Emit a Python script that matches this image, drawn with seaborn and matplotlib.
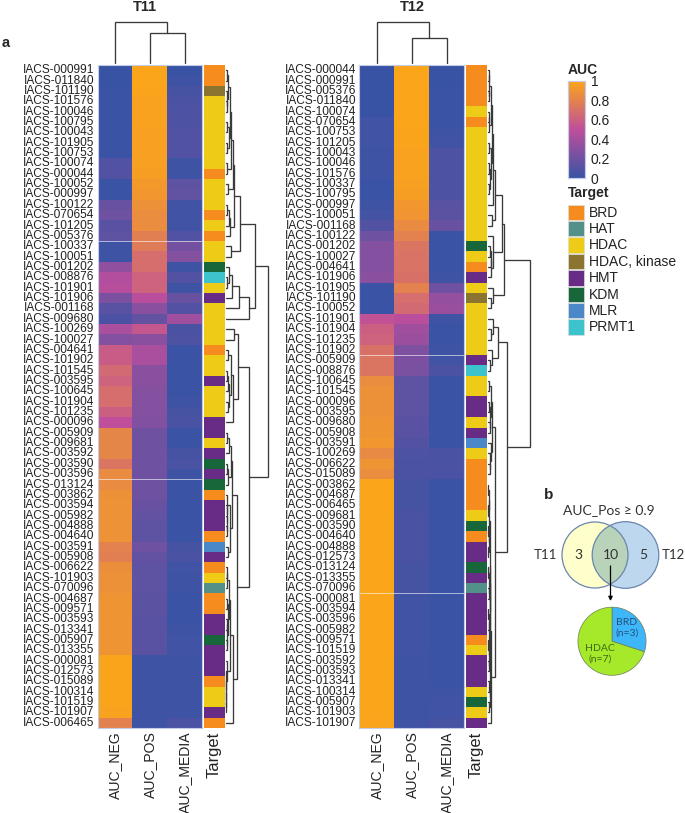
import numpy as np
import pandas as pd
import matplotlib
matplotlib.use("Agg")
import matplotlib.pyplot as plt
from matplotlib.colors import LinearSegmentedColormap, ListedColormap
from matplotlib.patches import Circle, Rectangle
import seaborn as sns

# ---------- data ----------
t11_ids = ["000991","011840","101190","101576","100046","100795","100043","101905","100753","100074",
           "000044","100052","000997","100122","070654","101205","005376","100337","100051","001202",
           "008876","101901","101906","001168","009680","100269","100027","004641","101902","101545",
           "003595","100645","101904","101235","000096","005909","009681","003592","003590","003596",
           "013124","003862","003594","005982","004888","004640","003591","005908","006622","101903",
           "070096","004687","009571","003593","013341","005907","013355","000081","012573","015089",
           "100314","101519","101907","006465"]
t11_neg = [0,0,.01,.01,.01,.01,.01,.01,.01,.09,.1,.01,.01,.18,.2,.12,.14,.02,.02,.33,
           .45,.47,.25,.12,.07,.42,.28,.58,.58,.66,.62,.68,.68,.6,.5,.82,.82,.82,.72,.85,
           .85,.88,.89,.89,.89,.89,.8,.78,.87,.88,.88,.9,.9,.9,.9,.9,.9,.99,.99,.99,
           .99,.99,.98,.8]
t11_pos = [1,1,.99,.98,.98,.98,.97,.97,.97,.97,.96,.93,.92,.88,.86,.86,.78,.76,.68,.68,
           .62,.62,.48,.3,.16,.55,.3,.42,.42,.3,.3,.28,.28,.28,.27,.2,.2,.2,.2,.2,
           .2,.2,.18,.16,.14,.14,.2,.16,.14,.14,.14,.13,.13,.12,.12,.12,.12,.02,.02,.02,
           .02,.02,.02,.02]
t11_media = [0,.02,.05,.07,.08,.08,.09,.09,.09,.02,.02,.14,.15,.03,.03,.03,.09,.22,.28,.02,
             .1,.02,.18,.1,.38,.06,.08,.01,.01,.01,.01,.01,.02,.05,.06,.01,.01,.05,.06,.02,
             .01,.01,.01,.01,.01,.01,.05,.06,.03,.02,.02,.01,.01,.01,.02,.03,.03,.02,.02,.02,
             .02,.02,.02,.07]
t11_target = ["BRD","BRD","HDAC, kinase","HDAC","HDAC","HDAC","HDAC","HDAC","HDAC","HDAC",
              "BRD","HDAC","HDAC","HDAC","BRD","HDAC","BRD","HDAC","HDAC","KDM",
              "PRMT1","HDAC","HMT","HDAC","HDAC","HDAC","HDAC","BRD","HDAC","HDAC",
              "HMT","HDAC","HDAC","HDAC","HMT","HMT","HDAC","HMT","KDM","HMT",
              "KDM","BRD","HMT","HMT","HMT","BRD","MLR","HMT","BRD","HDAC",
              "HAT","BRD","BRD","HMT","HMT","KDM","HMT","HMT","HMT","BRD",
              "HDAC","HDAC","HMT","BRD"]

t12_ids = ["000044","000991","005376","011840","100074","070654","100753","101205","100043","100046",
           "101576","100337","100795","000997","100051","001168","100122","001202","100027","004641",
           "101906","101905","101190","100052","101901","101904","101235","101902","005909","008876",
           "100645","101545","000096","003595","009680","005908","003591","100269","006622","015089",
           "003862","004687","006465","009681","003590","004640","004888","012573","013124","013355",
           "070096","000081","003594","003596","005982","009571","101519","003592","003593","013341",
           "100314","005907","101903","101907"]
t12_neg = [0,0,0,0,0,.03,.03,.03,.02,.02,.02,.01,.01,.02,.04,.1,.2,.28,.28,.28,
           .3,.01,.01,.01,.52,.6,.62,.7,.72,.72,.86,.88,.88,.88,.9,.9,.92,.84,.9,.86,
           1,1,1,1,1,1,1,1,1,1,1,1,1,1,1,1,1,1,1,1,1,1,1,.99]
t12_pos = [1,1,1,1,1,1,.99,.99,.98,.98,.98,.97,.96,.92,.91,.85,.8,.72,.71,.71,
           .7,.8,.68,.66,.48,.38,.36,.26,.25,.24,.14,.14,.14,.14,.12,.12,.1,.08,.07,.07,
           .05,.05,.05,.06,.06,.06,.06,.06,.05,.05,.05,.03,.03,.03,.03,.03,.03,.02,.02,.02,
           .02,.02,.02,.02]
t12_media = [0,0,.01,.01,.01,.01,.02,.03,.08,.08,.08,.08,.08,.12,.13,.18,.01,.01,.01,.01,
             .02,.2,.34,.36,.02,.01,.01,.02,.03,.07,.01,.01,.01,.01,.01,.01,.01,.06,.06,.07,
             .01,.01,.01,.01,.01,.01,.01,.01,.01,.01,.01,.01,.01,.01,.01,.01,.01,.01,.01,.01,
             .02,.03,.03,.05]
t12_target = ["BRD","BRD","BRD","BRD","HDAC","BRD","HDAC","HDAC","HDAC","HDAC",
              "HDAC","HDAC","HDAC","HDAC","HDAC","HDAC","HDAC","KDM","HDAC","BRD",
              "HMT","HDAC","HDAC, kinase","HDAC","HDAC","HDAC","HDAC","HDAC","HMT","PRMT1",
              "HDAC","HDAC","HMT","HMT","HDAC","HMT","MLR","HDAC","BRD","BRD",
              "BRD","BRD","BRD","HDAC","KDM","BRD","HMT","HMT","KDM","HMT",
              "HAT","HMT","HMT","HMT","HMT","BRD","HDAC","HMT","HMT","HMT",
              "HDAC","KDM","HDAC","HMT"]

auc_columns = ["AUC_NEG", "AUC_POS", "AUC_MEDIA"]
target_names = ["BRD", "HAT", "HDAC", "HDAC, kinase", "HMT", "KDM", "MLR", "PRMT1"]
target_colors = ["#F78C1E", "#54908A", "#EECB17", "#8B7430", "#682C87", "#18673A", "#4B88C8", "#3CC3CB"]
auc_ticks = [0, 0.2, 0.4, 0.6, 0.8, 1]
auc_tick_labels = ["0", "0.2", "0.4", "0.6", "0.8", "1"]

# Dendrograms: [height, child, child], 0 = one leaf, in leaf order
t11_col_tree = [41, 0, [30, 0, 0]]
t12_col_tree = [41, 0, [25.5, 0, 0]]

t11_c0 = [4.2, [2.5, [1.2, 0, 0], [1.5, 0, [0.8, 0, 0]]], [3, [1.2, 0, 0], [1.5, 0, 0]]]
t11_upper = [7.5, [5, t11_c0, [1.5, 0, 0]], [1.8, 0, 0]]
t11_lower = [4.5, [3, [1.5, 0, 0], 0], 0]
t11_sub_a = [14, [8.5, t11_upper, t11_lower], [5, 0, 0]]
t11_sub_b = [22.7, [13.3, [6, [3, 0, [1.5, 0, 0]], 0], 0], 0]
t11_mid = [12, [7.7, 0, 0],
           [7.2, [5.5, [2, 0, 0], [3.5, [2, [1, 0, 0], 0], [2.5, 0, 0]]], 0]]
t11_c1 = [5.2, [3, [1.5, 0, 0], 0], [2.5, [1.5, 0, 0], 0]]
t11_c2 = [4.5, [1.5, 0, [1, 0, [0.8, 0, [0.7, 0, 0]]]], [2, 0, 0]]
t11_c3 = [3.2, [1.5, [1, 0, 0], 0], [2.5, [1, 0, 0], [1.5, [1, 0, 0], [1, 0, 0]]]]
t11_c4 = [0.6, 0, [0.5, 0, [0.4, 0, [0.3, 0, [0.2, 0, 0]]]]]
t11_end = [11, [6, t11_c1, t11_c2], [6.7, [4.3, t11_c3, t11_c4], 0]]
t11_row_tree = [41.7, [29, t11_sub_a, t11_sub_b], [22.7, t11_mid, t11_end]]

t12_c0 = [3, [1, [0.5, 0, 0], [0.6, 0, 0]], [1.2, [0.6, 0, 0], 0]]
t12_c1 = [4, t12_c0, [2.5, [1, 0, 0], [1.5, [1.2, 0, 0], [0.8, 0, 0]]]]
t12_a = [7.3, [5, t12_c1, 0], [3.5, 0, 0]]
t12_b = [14, t12_a, [4.7, 0, [3, [2.5, [1.5, 0, 0], 0], 0]]]
t12_c = [15.7, t12_b, [4.7, 0, [3, 0, 0]]]
t12_d = [9.7, [5, 0, [2.5, 0, 0]], [3.5, 0, [1.5, 0, 0]]]
t12_e = [4, [2.5, [1, 0, 0], [1.5, [1, 0, 0], [1.5, 0, 0]]], [3, 0, [2, 0, [1.5, 0, 0]]]]
t12_f = [2, [0.8, [0.5, [0.3, 0, 0], [0.3, 0, 0]], [0.6, [0.3, 0, 0], [0.4, 0, 0]]],
         [1.5, [0.8, [0.4, 0, 0], [0.5, 0, 0]], [1.2, [0.6, [0.3, 0, 0], 0], [0.8, [0.4, 0, 0], [0.5, 0, 0]]]]]
t12_g = [1.8, [1, 0, 0], [1.2, 0, 0]]
t12_h = [2.7, [2.2, t12_f, t12_g], 0]
t12_row_tree = [41.7, t12_c, [19.3, t12_d, [7.3, t12_e, t12_h]]]

t11_seams = [17, 40]
t12_seams = [28, 51]

venn_only_t11, venn_both, venn_only_t12 = 3, 10, 5
pie_groups = ["BRD", "HDAC"]
pie_counts = [3, 7]
pie_colors = ["#3DB7FA", "#A6E82A"]

# ---------- figure ----------
sns.set_theme(style="white")
plt.rcParams["font.family"] = ["Liberation Sans", "DejaVu Sans"]
W, H = 685, 813
fig = plt.figure(figsize=(W / 100, H / 100), dpi=100, facecolor="white")


def px_axes(x0, y0, x1, y1, **kw):
    return fig.add_axes([x0 / W, 1 - y1 / H, (x1 - x0) / W, (y1 - y0) / H], **kw)


auc_cmap = LinearSegmentedColormap.from_list("auc", ["#3953A4", "#BF4E9C", "#FBA51A"])
target_cmap = ListedColormap(target_colors)
LINE = "#3a3a3a"


def draw_tree(ax, node, cursor, vertical):
    """Return (leaf position, height) of node; draws its brackets on ax."""
    if node == 0:
        cursor[0] += 1
        return cursor[0] - 0.5, 0.0
    h, a, b = node
    pa, ha = draw_tree(ax, a, cursor, vertical)
    pb, hb = draw_tree(ax, b, cursor, vertical)
    ps, hs = [pa, pa, pb, pb], [ha, h, h, hb]
    if vertical:
        ax.plot(ps, hs, color=LINE, lw=0.95, solid_joinstyle="miter")
    else:
        ax.plot(hs, ps, color=LINE, lw=0.95, solid_joinstyle="miter")
    return (pa + pb) / 2, h


def panel(ids, neg, pos, media, target, col_tree, row_tree, seams, x0, strip_x0, title, title_x, cbar_ax=None):
    labels = ["IACS-" + i for i in ids]
    frame = pd.DataFrame({"AUC_NEG": neg, "AUC_POS": pos, "AUC_MEDIA": media}, index=labels)[auc_columns]
    top, bottom = 65, 728
    ax = px_axes(x0, top, x0 + 104.5, bottom)
    sns.heatmap(frame, ax=ax, cmap=auc_cmap, vmin=0, vmax=1, cbar=cbar_ax is not None,
                cbar_ax=cbar_ax, yticklabels=True, xticklabels=True)
    ax.tick_params(axis="y", length=0, pad=2.0, labelsize=8.55, labelrotation=0, labelcolor="#222222")
    ax.tick_params(axis="x", length=0, pad=2.5, labelsize=10.1, labelrotation=90, labelcolor="#222222")
    ax.set_xlabel("")
    ax.set_ylabel("")
    ax.hlines(seams, 0, 3, color="white", lw=0.7, alpha=0.6)
    for spine in ax.spines.values():
        spine.set_visible(True)
        spine.set_color("#C3CBE6")
        spine.set_linewidth(0.8)

    codes = pd.DataFrame({"Target": [target_names.index(t) for t in target]}, index=labels)
    sx = px_axes(strip_x0, top, strip_x0 + 21, bottom)
    sns.heatmap(codes, ax=sx, cmap=target_cmap, vmin=-0.5, vmax=7.5, cbar=False,
                yticklabels=False, xticklabels=True)
    sx.tick_params(axis="x", length=0, pad=2.5, labelsize=11.9, labelrotation=90, labelcolor="#222222")
    sx.set_xlabel("")
    sx.set_ylabel("")

    cd = px_axes(x0, 22, x0 + 104.5, 63)
    draw_tree(cd, col_tree, [0], True)
    cd.set_xlim(0, 3)
    cd.set_ylim(0, 41)
    cd.axis("off")

    rd = px_axes(strip_x0 + 22, top, strip_x0 + 22 + 42.5, bottom)
    draw_tree(rd, row_tree, [0], False)
    rd.set_xlim(0, 42.5)
    rd.set_ylim(64, 0)
    rd.axis("off")
    for line in rd.lines + cd.lines:
        line.set_clip_on(False)
    fig.text(title_x / W, 1 - 7 / H, title, ha="center", va="center", fontsize=10.5, fontweight="bold")


cbar_ax = px_axes(568, 81, 585, 178)
panel(t11_ids, t11_neg, t11_pos, t11_media, t11_target, t11_col_tree, t11_row_tree, t11_seams,
      97.5, 204, "T11", 145, cbar_ax=cbar_ax)
panel(t12_ids, t12_neg, t12_pos, t12_media, t12_target, t12_col_tree, t12_row_tree, t12_seams,
      359.5, 466, "T12", 412)

cbar_ax.yaxis.set_ticks_position("both")
cbar_ax.set_yticks(auc_ticks)
cbar_ax.set_yticklabels(auc_tick_labels)
cbar_ax.tick_params(axis="y", which="both", direction="in", color="white", length=3.5, width=0.8,
                    left=True, right=True, labelleft=False, labelright=True, pad=4,
                    labelsize=10, labelcolor="#222222")
for spine in cbar_ax.spines.values():
    spine.set_visible(True)
    spine.set_color("#C3CBE6")
    spine.set_linewidth(0.8)

# overlay in pixel space for the hand-drawn panel b and legend
ov = fig.add_axes([0, 0, 1, 1], zorder=9)
ov.set_xlim(0, W)
ov.set_ylim(H, 0)
ov.axis("off")
ov.patch.set_alpha(0)

ov.text(2, 43, "a", fontsize=10.5, fontweight="bold", va="center")
ov.text(568, 70, "AUC", fontsize=10, fontweight="bold", va="center")
ov.text(568, 193, "Target", fontsize=10, fontweight="bold", va="center")
for i, (name, color) in enumerate(zip(target_names, target_colors)):
    y = 204.5 + i * 16.4
    ov.add_patch(Rectangle((568.5, y), 15.5, 15.5, facecolor=color, edgecolor="#DDDDDD", lw=0.5))
    ov.text(589, y + 8, name, fontsize=10, va="center", color="#222222")

VF = ["Lato", "DejaVu Sans"]
ov.text(549, 495, "b", fontsize=11, fontweight="bold", va="center", ha="center")
ov.text(609, 510, "AUC_Pos ≥ 0.9", fontsize=10, family=VF, va="center", ha="center", color="#333333")
left_c = Circle((595, 555), 33, facecolor="#FFFFCC", edgecolor="none")
right_c = Circle((625.5, 555), 33.3, facecolor="#BDD7EE", edgecolor="none")
ov.add_patch(left_c)
ov.add_patch(right_c)
both = Circle((595, 555), 33, facecolor="#B8D3BA", edgecolor="none")
ov.add_patch(both)
both.set_clip_path(right_c)
ov.add_patch(Circle((595, 555), 33, facecolor="none", edgecolor="#6A86AE", lw=0.9))
ov.add_patch(Circle((625.5, 555), 33.3, facecolor="none", edgecolor="#6A86AE", lw=0.9))
ov.text(545.5, 555, "T11", fontsize=9.5, family=VF, va="center", ha="center", color="#333333")
ov.text(673.5, 555, "T12", fontsize=9.5, family=VF, va="center", ha="center", color="#333333")
ov.text(578.5, 555, str(venn_only_t11), fontsize=10, family=VF, va="center", ha="center", color="#333333")
ov.text(610.5, 555, str(venn_both), fontsize=10, family=VF, va="center", ha="center", color="#333333")
ov.text(643, 555, str(venn_only_t12), fontsize=10, family=VF, va="center", ha="center", color="#333333")
ov.annotate("", xy=(610.5, 601), xytext=(610.5, 566),
            arrowprops=dict(arrowstyle="-|>", color="black", lw=0.9, mutation_scale=6, shrinkA=0, shrinkB=0))

pie_ax = px_axes(577, 606.5, 647, 676)
pie_ax.set_zorder(8)
pie_ax.pie(pie_counts, colors=pie_colors, startangle=90, counterclock=False,
           wedgeprops=dict(edgecolor="#6b7d55", linewidth=0.5))
pie_ax.set_xlim(-1.02, 1.02)
pie_ax.set_ylim(-1.02, 1.02)
ov.text(627, 628, f"{pie_groups[0]}\n(n={pie_counts[0]})", fontsize=7.5, family=VF, va="center", ha="center",
        color="#24507a", linespacing=1.3)
ov.text(600, 654, f"{pie_groups[1]}\n(n={pie_counts[1]})", fontsize=7.5, family=VF, va="center", ha="center",
        color="#3f6a1a", linespacing=1.3)

fig.savefig("out.png", dpi=100)
